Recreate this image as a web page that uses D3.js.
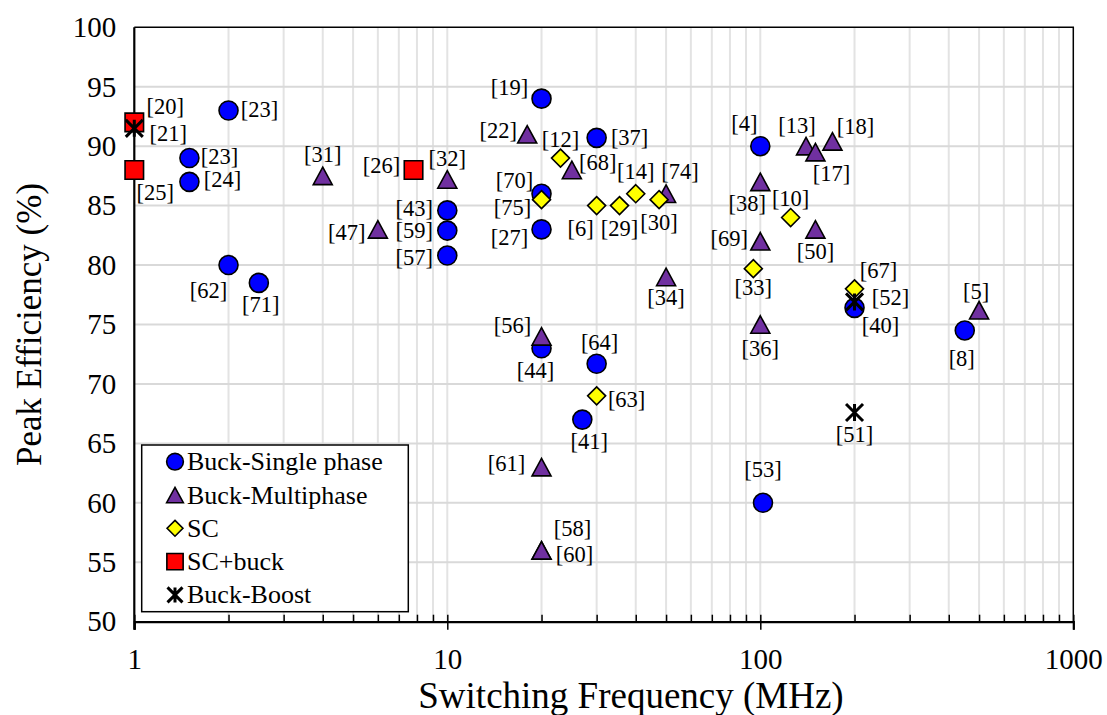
<!DOCTYPE html>
<html>
<head>
<meta charset="utf-8">
<script src="https://cdn.jsdelivr.net/npm/d3@7"></script>
<style>
  html, body { margin: 0; padding: 0; background: #fff; }
  svg { display: block; font-family: "Liberation Serif", "Times New Roman", serif; }
</style>
</head>
<body>
<svg id="chart" width="1107" height="715"></svg>
<script>
// ---- Data: switching frequency (MHz), peak efficiency (%), reference tags ----
const singleFreq = [2, 1.5, 1.5, 2, 2.5, 10, 10, 10, 20, 30, 20, 20, 20, 30, 27, 100, 102, 200, 450];
const singleEff  = [93, 89, 87, 80, 78.5, 84.6, 82.9, 80.8, 94, 90.7, 86, 83, 73, 71.7, 67, 90, 60, 76.4, 74.5];
const singleRef  = ["[23]", "[23]", "[24]", "[62]", "[71]", "[43]", "[59]", "[57]", "[19]", "[37]", "[70]", "[27]", "[44]", "[64]", "[41]", "[4]", "[53]", "[40]", "[8]"];

const multiFreq = [4, 6, 10, 18, 25, 50, 50, 20, 20, 20, 20, 100, 100, 100, 140, 150, 170, 150, 500];
const multiEff  = [87.5, 83, 87.2, 91, 88, 86, 79, 74, 63, 56, 56, 87, 82, 75, 90, 89.5, 90.4, 83, 76.2];
const multiRef  = ["[31]", "[47]", "[32]", "[22]", "[68]", "[74]", "[34]", "[56]", "[61]", "[58]", "[60]", "[38]", "[69]", "[36]", "[13]", "[17]", "[18]", "[50]", "[5]"];

const scFreq = [23, 20, 30, 35.5, 40, 47.5, 125, 95, 200, 30];
const scEff  = [89, 85.5, 85, 85, 86, 85.5, 84, 79.7, 78, 69];
const scRef  = ["[12]", "[75]", "[6]", "[29]", "[14]", "[30]", "[10]", "[33]", "[67]", "[63]"];

const scBuckFreq = [1, 1, 7.8];
const scBuckEff  = [92, 88, 88];
const scBuckRef  = ["[20]", "[25]", "[26]"];

const bbFreq = [1, 200, 200];
const bbEff  = [91.5, 76.9, 67.6];
const bbRef  = ["[21]", "[52]", "[51]"];

const seriesNames = ["Buck-Single phase", "Buck-Multiphase", "SC", "SC+buck", "Buck-Boost"];
const xTickValues = [1, 10, 100, 1000];
const yTickValues = [50, 55, 60, 65, 70, 75, 80, 85, 90, 95, 100];

// ---- Layout: label offsets (px) from each marker, same order as the data ----
const singleLabelPos = [[31,-1],[30,-2],[33,-2],[-20,25],[2,22],[-33,-2],[-33,0],[-33,2],[-32,-11],[33,0],[-27,-13],[-32,8],[-6,22],[3,-21],[7,22],[-16,-23],[0,-33],[26,18],[-3,28]];
const multiLabelPos  = [[0,-21],[-31,3],[0,-21],[-29,-4],[26,-7],[14,-22],[0,21],[-29,-11],[-35,-4],[31,-22],[33,4],[-13,22],[-31,-3],[0,24],[-9,-21],[16,21],[23,-15],[0,22],[-3,-19]];
const scLabelPos     = [[0,-19],[-29,8],[-16,23],[0,23],[0,-22],[0,23],[0,-19],[0,19],[24,-18],[30,4]];
const scBuckLabelPos = [[31,-16],[21,23],[-32,-4]];
const bbLabelPos     = [[34,5],[36,-4],[0,22]];

const series = [
  { name: seriesNames[0], freq: singleFreq, eff: singleEff, ref: singleRef, lab: singleLabelPos, shape: "circle",   fill: "#0000ff" },
  { name: seriesNames[1], freq: multiFreq,  eff: multiEff,  ref: multiRef,  lab: multiLabelPos,  shape: "triangle", fill: "#7030a0" },
  { name: seriesNames[2], freq: scFreq,     eff: scEff,     ref: scRef,     lab: scLabelPos,     shape: "diamond",  fill: "#ffff00" },
  { name: seriesNames[3], freq: scBuckFreq, eff: scBuckEff, ref: scBuckRef, lab: scBuckLabelPos, shape: "square",   fill: "#ff0000" },
  { name: seriesNames[4], freq: bbFreq,     eff: bbEff,     ref: bbRef,     lab: bbLabelPos,     shape: "star",     fill: "none" }
];

const svg = d3.select("#chart");
const W = 1107, H = 715;
const plot = { left: 134.3, right: 1073.3, top: 27.3, bottom: 621.7 };
const serif = "'Liberation Serif', 'Times New Roman', serif";

svg.append("rect").attr("width", W).attr("height", H).attr("fill", "#fff");

const x = d3.scaleLog().domain([1, 1000]).range([plot.left, plot.right]);
const y = d3.scaleLinear().domain([50, 100]).range([plot.bottom, plot.top]);

// minor positions of the log axis (2..9 in each decade)
const minorTicks = [];
for (let d = 1; d < 1000; d *= 10) for (let k = 2; k <= 9; k++) minorTicks.push(d * k);

// ---- gridlines ----
const grid = svg.append("g");
grid.selectAll("line.vg").data(minorTicks.concat([10, 100])).join("line")
  .attr("x1", d => x(d)).attr("x2", d => x(d))
  .attr("y1", plot.top).attr("y2", plot.bottom)
  .attr("stroke", "#e3e3e3").attr("stroke-width", 2);
grid.selectAll("line.hg").data(yTickValues.slice(1, -1)).join("line")
  .attr("x1", plot.left).attr("x2", plot.right)
  .attr("y1", d => y(d)).attr("y2", d => y(d))
  .attr("stroke", "#d9d9d9").attr("stroke-width", 2);

// plot frame (top and right)
svg.append("path")
  .attr("d", `M${plot.left},${plot.top}H${plot.right}V${plot.bottom}`)
  .attr("fill", "none").attr("stroke", "#000").attr("stroke-width", 1.5);

// ---- axes ----
const xAxis = svg.append("g").attr("transform", `translate(0,${plot.bottom})`)
  .call(d3.axisBottom(x).tickValues(xTickValues).tickFormat(d3.format("d")).tickSize(8).tickPadding(19));
xAxis.select(".domain").attr("stroke", "#000").attr("stroke-width", 2.2);
xAxis.selectAll(".tick line").attr("stroke", "#000").attr("stroke-width", 1.5).attr("y1", -7);
xAxis.selectAll(".tick text").attr("font-size", 29).attr("fill", "#000").attr("font-family", serif);

const xMinor = svg.append("g").attr("transform", `translate(0,${plot.bottom})`)
  .call(d3.axisBottom(x).tickValues(minorTicks).tickFormat("").tickSize(-7));
xMinor.select(".domain").remove();
xMinor.selectAll(".tick line").attr("stroke", "#000").attr("stroke-width", 1.5);

const yAxis = svg.append("g").attr("transform", `translate(${plot.left},0)`)
  .call(d3.axisLeft(y).tickValues(yTickValues).tickFormat(d3.format("d")).tickSize(0).tickPadding(18));
yAxis.select(".domain").attr("stroke", "#000").attr("stroke-width", 2.2)
  .attr("d", `M0,${plot.top}V${plot.bottom + 8}`);
yAxis.selectAll(".tick text").attr("font-size", 29).attr("fill", "#000").attr("font-family", serif);

// axis titles
svg.append("text")
  .attr("x", 631).attr("y", 708)
  .attr("text-anchor", "middle").attr("font-size", 37).attr("fill", "#000")
  .text("Switching Frequency (MHz)");
svg.append("text")
  .attr("transform", `translate(41,${(plot.top + plot.bottom) / 2}) rotate(-90)`)
  .attr("text-anchor", "middle").attr("font-size", 35).attr("fill", "#000")
  .text("Peak Efficiency (%)");

// ---- marker shapes ----
function markerPath(shape, s) {
  const h = s / 2;
  switch (shape) {
    case "circle":   return `M${h},0A${h},${h} 0 1,1 ${-h},0A${h},${h} 0 1,1 ${h},0Z`;
    case "triangle": return `M0,${-s * 0.46}L${h},${s * 0.46}L${-h},${s * 0.46}Z`;
    case "diamond":  return `M0,${-h}L${h},0L0,${h}L${-h},0Z`;
    case "square":   return `M${-h},${-h}H${h}V${h}H${-h}Z`;
    case "star":     return `M${-h},${-h}L${h},${h}M${-h},${h}L${h},${-h}M0,${-h}V${h}`;
  }
}
const markerSize = { circle: 19, triangle: 19, diamond: 18, square: 18.5, star: 17 };

function drawMarker(g, shape, fill, scale) {
  const p = g.append("path").attr("d", markerPath(shape, markerSize[shape] * scale));
  if (shape === "star") {
    p.attr("fill", "none").attr("stroke", "#000").attr("stroke-width", 3);
  } else {
    p.attr("fill", fill).attr("stroke", "#000").attr("stroke-width", 1.6).attr("stroke-linejoin", "miter");
  }
  return p;
}

// ---- points ----
const pts = svg.append("g");
series.forEach(s => {
  s.freq.forEach((f, i) => {
    const g = pts.append("g").attr("transform", `translate(${x(f)},${y(s.eff[i])})`);
    drawMarker(g, s.shape, s.fill, 1);
  });
});

// ---- reference labels ----
const labels = svg.append("g").attr("font-size", 22.5).attr("fill", "#000");
series.forEach(s => {
  s.freq.forEach((f, i) => {
    labels.append("text")
      .attr("x", x(f) + s.lab[i][0])
      .attr("y", y(s.eff[i]) + s.lab[i][1])
      .attr("text-anchor", "middle")
      .attr("dominant-baseline", "central")
      .text(s.ref[i]);
  });
});

// ---- legend ----
const lg = svg.append("g");
lg.append("rect")
  .attr("x", 141.7).attr("y", 445).attr("width", 266.6).attr("height", 166.7)
  .attr("fill", "#fff").attr("stroke", "#000").attr("stroke-width", 1.5);
series.forEach((s, i) => {
  const row = lg.append("g").attr("transform", `translate(175,${461.7 + i * 33.3})`);
  drawMarker(row, s.shape, s.fill, 0.88);
  row.append("text").attr("x", 12).attr("y", 0)
    .attr("dominant-baseline", "central")
    .attr("font-size", 26).attr("fill", "#000")
    .text(s.name);
});
</script>
</body>
</html>
